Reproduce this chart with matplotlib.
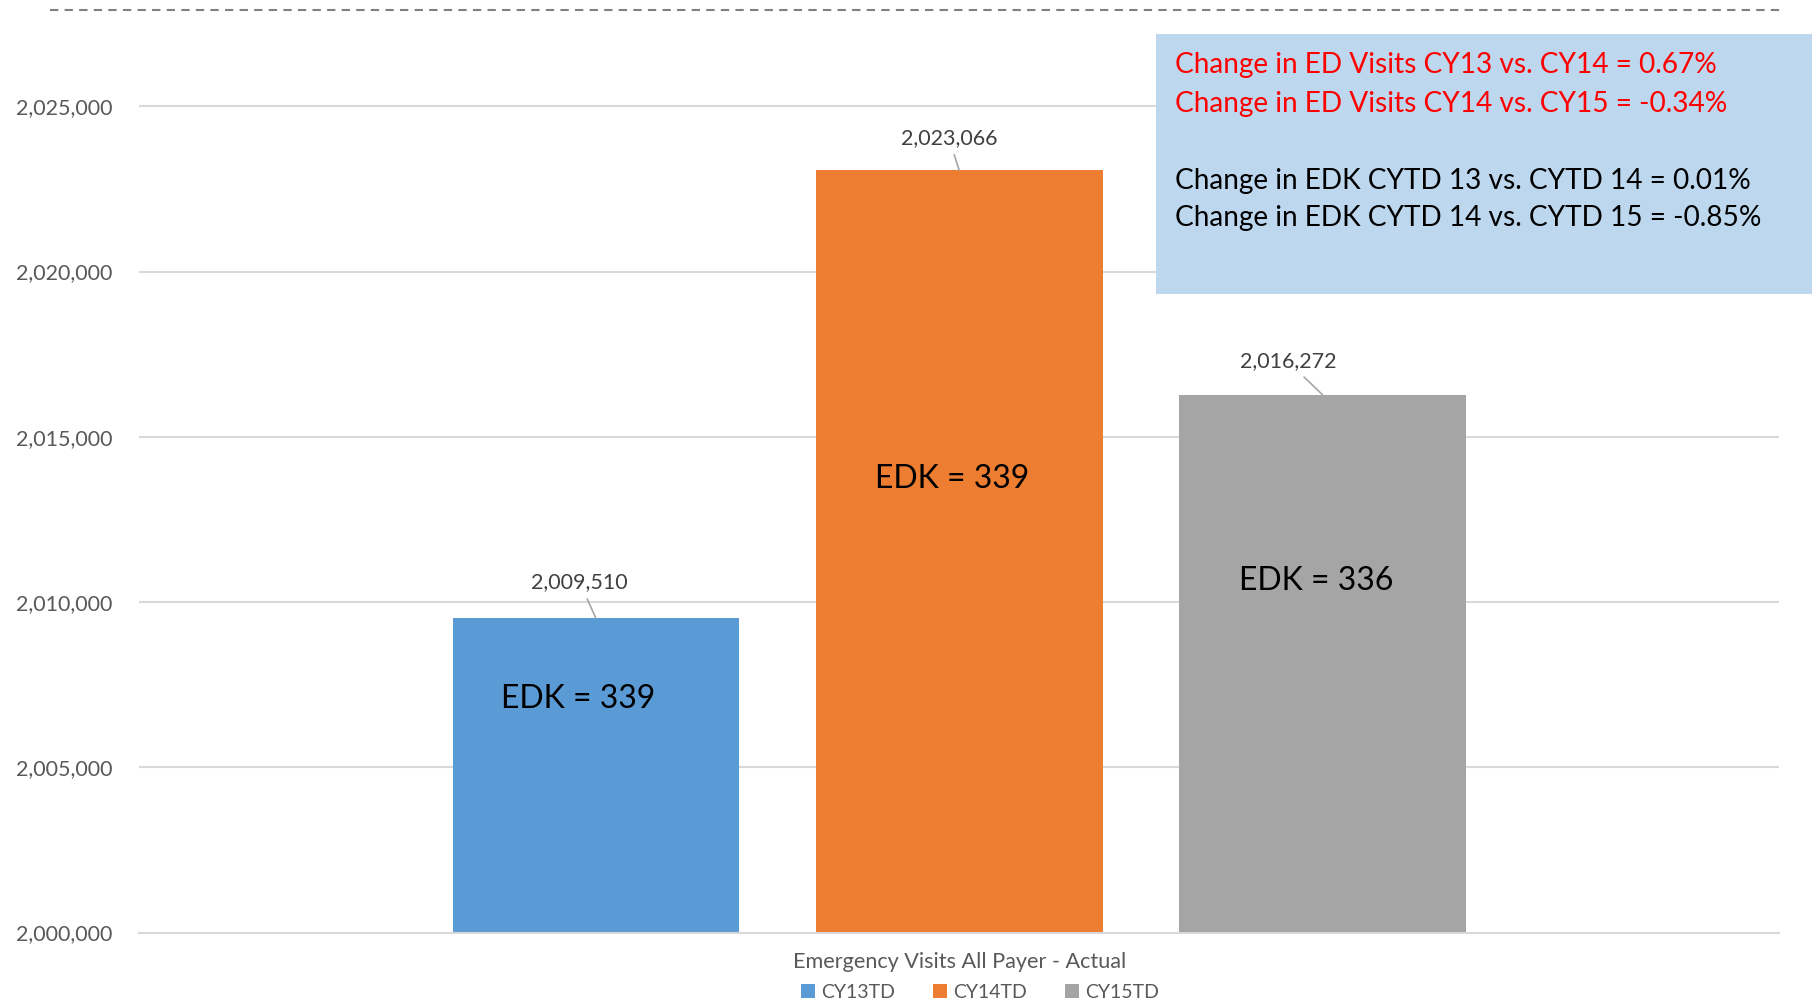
import matplotlib.pyplot as plt
from matplotlib.patches import Patch
from matplotlib.lines import Line2D
from matplotlib.ticker import FuncFormatter

plt.rcParams['font.family'] = ['Lato', 'DejaVu Sans']

# data
category = 'Emergency Visits All Payer - Actual'
series = ['CY13TD', 'CY14TD', 'CY15TD']
visits = [2009510, 2023066, 2016272]
edk = [339, 339, 336]
colors = ['#5B9BD5', '#ED7D31', '#A5A5A5']
notes_red = ['Change in ED Visits CY13 vs. CY14 = 0.67%',
             'Change in ED Visits CY14 vs. CY15 = -0.34%']
notes_black = ['Change in EDK CYTD 13 vs. CYTD 14 = 0.01%',
               'Change in EDK CYTD 14 vs. CYTD 15 = -0.85%']

fig = plt.figure(figsize=(18.12, 10.02), dpi=100)
ax = fig.add_axes([0.0767, 0.0693, 0.9053, 0.9307])

x = list(range(len(series)))
bars = ax.bar(x, visits, width=0.789, color=colors, zorder=2)

ax.set_ylim(2000000, 2028217)
ax.set_xlim(-1.2576, 3.2576)
ax.set_yticks(range(2000000, 2025001, 5000))
ax.yaxis.set_major_formatter(FuncFormatter(lambda v, p: f'{int(v):,}'))
ax.grid(axis='y', color='#D9D9D9', linewidth=1.5, zorder=0)
for s in ['top', 'right', 'left']:
    ax.spines[s].set_visible(False)
ax.spines['bottom'].set_color('#D9D9D9')
ax.spines['bottom'].set_linewidth(1.5)
ax.tick_params(axis='y', length=0, labelsize=15.5, labelcolor='#595959', pad=19)
ax.set_xticks([1])
ax.set_xticklabels([category])
ax.tick_params(axis='x', length=0, labelsize=15.6, labelcolor='#595959', pad=14)

# data labels with leader lines
offsets = [(-11.6, 25.8), (-7.5, 23.3), (-25, 24.1)]
for xi, v, off in zip(x, visits, offsets):
    ax.annotate(f'{v:,}', xy=(xi, v), xytext=off, textcoords='offset points',
                ha='center', va='center', fontsize=15.5, color='#404040',
                arrowprops=dict(arrowstyle='-', color='#A6A6A6', lw=1.2,
                                shrinkA=3, shrinkB=0))

# EDK labels inside bars
edk_pos = [(-0.05, 2007063), (0.98, 2013710), (1.984, 2010630)]
for (px, py), k in zip(edk_pos, edk):
    ax.text(px, py, f'EDK = {k}', ha='center', va='center', fontsize=23,
            color='black')

# dashed line on top
fig.add_artist(Line2D([50 / 1812, 1780 / 1812], [1 - 10 / 1002, 1 - 10 / 1002],
                      color='#808080', linestyle=(0, (4, 3)), linewidth=1.5))

# note box
box = plt.Rectangle((1156 / 1812, 1 - 293.5 / 1002), 656 / 1812, 260 / 1002,
                    transform=fig.transFigure, facecolor='#BDD7EE',
                    edgecolor='none', zorder=3)
fig.add_artist(box)
ys = [65, 104, 181, 218]
for txt, yy, c in zip(notes_red + notes_black, ys,
                      ['red', 'red', 'black', 'black']):
    fig.text(1175 / 1812, 1 - yy / 1002, txt, color=c, fontsize=20.2,
             ha='left', va='center', zorder=4)

handles = [Patch(facecolor=c, label=s) for c, s in zip(colors, series)]
fig.legend(handles=handles, loc='center', bbox_to_anchor=(980 / 1812, 1 - 992 / 1002),
           ncol=3, frameon=False, fontsize=14, labelcolor='#595959',
           handlelength=0.7, handleheight=0.7, handletextpad=0.3,
           columnspacing=2.0, borderpad=0)

fig.savefig('out.png', dpi=100)
